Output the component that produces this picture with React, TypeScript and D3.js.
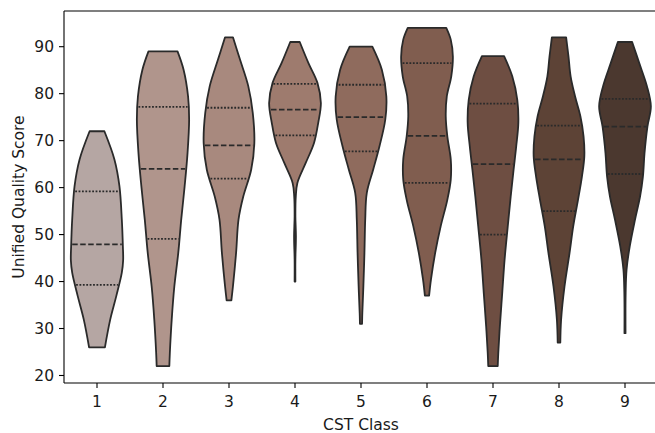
import React from "react";
import * as d3 from "d3";

const classes = ["1", "2", "3", "4", "5", "6", "7", "8", "9"];
const yTicks = [20, 30, 40, 50, 60, 70, 80, 90];
const colors = ["#b5a6a3", "#b0958c", "#a8897e", "#9e7b6e", "#8f6b5d", "#805d4f", "#6e4e42", "#5d4336", "#4b382f"];

// quartiles [q1, median, q3]
const quartiles = [
  [39.3, 47.9, 59.2],
  [49.1, 64.0, 77.2],
  [61.9, 69.0, 77.0],
  [71.1, 76.6, 82.1],
  [67.7, 75.0, 81.9],
  [61.0, 71.0, 86.5],
  [50.0, 65.0, 77.9],
  [55.0, 66.0, 73.2],
  [62.9, 73.0, 78.9],
];

// violin profiles: values (top to bottom) and relative densities
const profileValues = [
  [72, 66, 60.3, 53.2, 47.5, 44.5, 41.9, 36.9, 31.9, 26],
  [89, 85.1, 79.4, 74.5, 67.4, 60.3, 53.2, 46.2, 39, 31.9, 24.9, 22],
  [92, 87.2, 81.6, 75.9, 69.5, 63.8, 58.1, 53.2, 46.2, 39, 36],
  [91, 86.5, 82.3, 78, 73.8, 69.5, 65.3, 61, 58.1, 53.9, 49.6, 44.7, 40],
  [90, 85.1, 79.4, 74.5, 68.8, 63.8, 58.9, 53.2, 46.1, 39, 33.3, 31],
  [94, 91.5, 87.9, 83.7, 79.4, 75.2, 70.9, 66, 61.7, 57.4, 51.8, 46.1, 40.4, 37],
  [88, 83.7, 78.7, 73.8, 68.8, 63.8, 58.1, 51.8, 44.7, 37.6, 30.5, 24.8, 22],
  [92, 87.9, 83.7, 79.4, 75.2, 70.9, 66.7, 62.4, 57.4, 51.8, 46.1, 39, 31.9, 27],
  [91, 86.5, 81.6, 77.3, 73, 67.4, 62.4, 58.1, 53.2, 47.5, 42.6, 37.6, 29],
];
const profileDensities = [
  [0.28, 0.66, 0.85, 0.94, 0.98, 0.99, 0.94, 0.73, 0.5, 0.3],
  [0.55, 0.78, 0.95, 0.99, 0.93, 0.82, 0.69, 0.58, 0.43, 0.33, 0.26, 0.24],
  [0.15, 0.42, 0.73, 0.9, 0.96, 0.84, 0.54, 0.36, 0.27, 0.15, 0.09],
  [0.18, 0.51, 0.85, 0.98, 0.88, 0.72, 0.41, 0.09, 0.03, 0.015, 0.035, 0.015, 0.015],
  [0.43, 0.79, 0.96, 0.92, 0.7, 0.46, 0.22, 0.16, 0.13, 0.09, 0.05, 0.04],
  [0.73, 0.9, 0.98, 0.92, 0.75, 0.71, 0.77, 0.9, 0.9, 0.77, 0.52, 0.31, 0.15, 0.08],
  [0.42, 0.73, 0.92, 0.96, 0.88, 0.78, 0.67, 0.56, 0.44, 0.35, 0.26, 0.2, 0.18],
  [0.27, 0.36, 0.44, 0.61, 0.81, 0.93, 0.96, 0.87, 0.72, 0.54, 0.4, 0.21, 0.08, 0.05],
  [0.27, 0.54, 0.83, 0.98, 0.85, 0.74, 0.68, 0.57, 0.38, 0.18, 0.06, 0.025, 0.02],
];

const W = 655;
const H = 433;
const margin = { left: 64, right: -3, top: 11, bottom: 50 };
const lineColor = "#2a2a2a";
const font = "'DejaVu Sans', sans-serif";
const fs = 15.5;

export default function App() {
  const x = d3
    .scaleBand<string>()
    .domain(classes)
    .range([margin.left, W - margin.right])
    .padding(0);
  const y = d3.scaleLinear().domain([18.4, 97.6]).range([H - margin.bottom, margin.top]);
  const bw = x.bandwidth();
  const wScale = d3.scaleLinear().domain([0, 1]).range([0, bw * 0.4]);

  const violins = classes.map((c, i) => {
    const cx = (x(c) as number) + bw / 2;
    const pts = profileValues[i].map((v, j) => ({ v, d: profileDensities[i][j] }));
    const area = d3
      .area<{ v: number; d: number }>()
      .y((p) => y(p.v))
      .x0((p) => cx - wScale(p.d))
      .x1((p) => cx + wScale(p.d))
      .curve(d3.curveCatmullRom.alpha(0.5));
    const path = area(pts) as string;
    const vals = profileValues[i];
    const dens = profileDensities[i];
    const interp = (q: number) => {
      for (let j = 0; j < vals.length - 1; j++) {
        if (q <= vals[j] && q >= vals[j + 1]) {
          const t = (vals[j] - q) / (vals[j] - vals[j + 1]);
          return dens[j] + t * (dens[j + 1] - dens[j]);
        }
      }
      return 0;
    };
    const qs = quartiles[i].map((q, k) => {
      const hw = wScale(interp(q));
      return { q, hw, median: k === 1 };
    });
    return { c, cx, path, qs, color: colors[i] };
  });

  const plotBottom = H - margin.bottom;

  return (
    <svg width={W} height={H} style={{ position: "absolute", left: 0, top: 0, background: "#fff" }}>
      {violins.map((vl) => (
        <g key={vl.c}>
          <path d={vl.path} fill={vl.color} stroke={lineColor} strokeWidth={1.8} strokeLinejoin="round" />
          {vl.qs.map((q, k) => (
            <line
              key={k}
              x1={vl.cx - q.hw + 1}
              x2={vl.cx + q.hw - 1}
              y1={y(q.q)}
              y2={y(q.q)}
              stroke={lineColor}
              strokeWidth={1.8}
              strokeDasharray={q.median ? "5.5,2.5" : "1.8,1.6"}
            />
          ))}
        </g>
      ))}
      {/* spines */}
      <line x1={margin.left} x2={margin.left} y1={margin.top} y2={plotBottom} stroke="#000" strokeWidth={1.1} />
      <line x1={margin.left} x2={W + 5} y1={plotBottom} y2={plotBottom} stroke="#000" strokeWidth={1.1} />
      <line x1={margin.left} x2={W + 5} y1={margin.top} y2={margin.top} stroke="#000" strokeWidth={1.1} />
      {/* y ticks */}
      {yTicks.map((t) => (
        <g key={t}>
          <line x1={margin.left - 5} x2={margin.left} y1={y(t)} y2={y(t)} stroke="#000" strokeWidth={1.1} />
          <text x={margin.left - 10} y={y(t)} dy="0.36em" textAnchor="end" fontFamily={font} fontSize={fs} fill="#1a1a1a">
            {t}
          </text>
        </g>
      ))}
      {/* x ticks */}
      {classes.map((c) => {
        const cx = (x(c) as number) + bw / 2;
        return (
          <g key={c}>
            <line x1={cx} x2={cx} y1={plotBottom} y2={plotBottom + 5} stroke="#000" strokeWidth={1.1} />
            <text x={cx} y={plotBottom + 23.5} textAnchor="middle" fontFamily={font} fontSize={fs} fill="#1a1a1a">
              {c}
            </text>
          </g>
        );
      })}
      <text x={361} y={430} textAnchor="middle" fontFamily={font} fontSize={fs} fill="#1a1a1a">
        CST Class
      </text>
      <text
        transform={`translate(23.5, ${(margin.top + plotBottom) / 2}) rotate(-90)`}
        textAnchor="middle"
        fontFamily={font}
        fontSize={fs}
        fill="#1a1a1a"
      >
        Unified Quality Score
      </text>
    </svg>
  );
}
